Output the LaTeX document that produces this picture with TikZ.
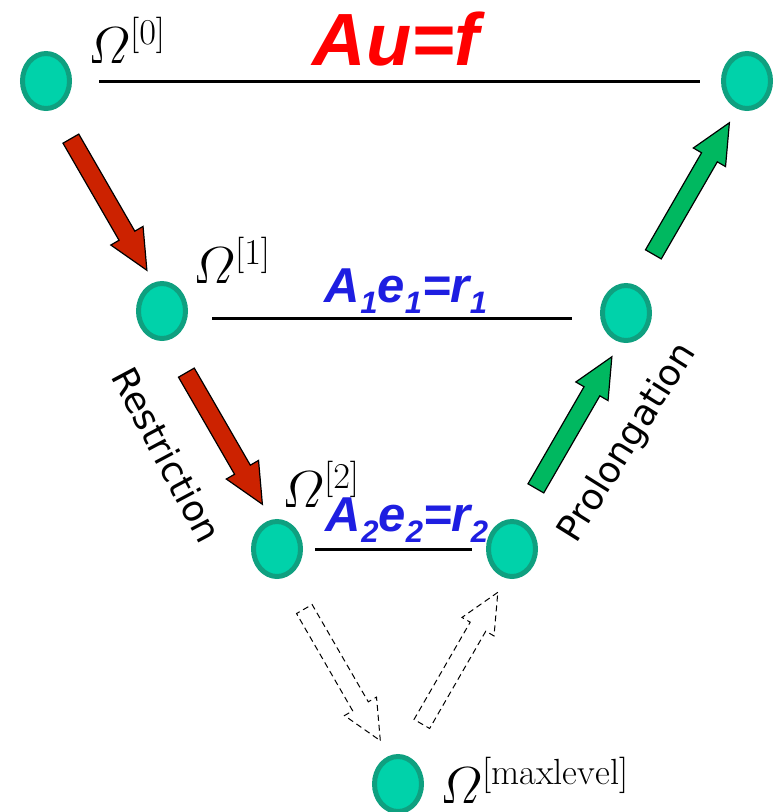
\RequirePackage{fix-cm}
\documentclass[tikz,border=0pt]{standalone}
\usepackage{amsmath}
\usepackage{fontspec}
\newfontfamily\arialfont{Liberation Sans}
\newfontfamily\labelfont{DejaVu Sans}
\usetikzlibrary{calc, shapes.geometric, shapes.arrows}

\definecolor{gridfill}{RGB}{0,210,170}
\definecolor{griddraw}{RGB}{15,160,128}
\definecolor{restrred}{RGB}{204,34,0}
\definecolor{prolgreen}{RGB}{0,184,96}
\definecolor{eqblue}{RGB}{30,30,225}

\newcommand{\eqsub}[1]{\raisebox{-11pt}{\fontsize{31}{31}\selectfont #1}}

\begin{document}
\begin{tikzpicture}[
  x=1pt, y=-1pt,
  gridpt/.style={ellipse, draw=griddraw, fill=gridfill, line width=5pt,
                 minimum width=47pt, minimum height=55pt, inner sep=0pt},
  level/.style={line width=3pt},
  omega/.style={anchor=base west, inner sep=0pt, font=\fontsize{52}{60}\selectfont},
  eqn/.style={anchor=base, inner sep=0pt, text=eqblue,
              font=\arialfont\bfseries\itshape\fontsize{49}{55}\selectfont},
  blockarr/.style={single arrow, draw=black, line width=1.2pt, inner sep=8.5pt,
                   minimum width=36pt, single arrow head extend=9.5pt,
                   single arrow tip angle=50, minimum height=152pt, rotate=#1},
  dasharr/.style={blockarr=#1, line width=1pt, dash pattern=on 6pt off 4pt},
  side/.style={inner sep=0pt, font=\labelfont\fontsize{36}{40}\selectfont}
]
  \useasboundingbox (0,0) rectangle (777,812);

  % Grid levels
  \node[gridpt] (c0)   at (46,81)   {};
  \node[gridpt] (c0r)  at (747,81)  {};
  \node[gridpt] (c1)   at (162,311) {};
  \node[gridpt] (c1r)  at (626,313) {};
  \node[gridpt] (c2)   at (277,549) {};
  \node[gridpt] (c2r)  at (512,549) {};
  \node[gridpt] (cmax) at (398,784) {};

  \draw[level, shorten <=27pt, shorten >=21pt] (c0.east) -- (c0r.west);
  \draw[level, shorten <=24pt, shorten >=28pt] ([yshift=-7pt]c1.east) -- ([yshift=-5pt]c1r.west);
  \draw[level, shorten <=12pt, shorten >=14pt] (c2.east) -- (c2r.west);

  % Grid labels
  \node[omega] (om0)   at (88,63)   {$\varOmega^{[0]}$};
  \node[omega] (om1)   at (193,283) {$\varOmega^{[1]}$};
  \node[omega] (om2)   at (282,507) {$\varOmega^{[2]}$};
  \node[omega] (ommax) at (440,803) {$\varOmega^{[\mathrm{maxlevel}]}$};

  % Equations
  \node[anchor=base, inner sep=0pt, text=red,
        font=\arialfont\bfseries\itshape\fontsize{74}{80}\selectfont] (eq0) at (396,65) {Au=f};
  \node[eqn] (eq1) at (406,302) {A\eqsub{1}e\eqsub{1}=r\eqsub{1}};
  \node[eqn] (eq2) at (407,531) {A\eqsub{2}e\eqsub{2}=r\eqsub{2}};

  % Restriction and prolongation arrows
  \node[blockarr=-60, fill=restrred] (down0) at ($(c0)!0.5!(c1)$) {};
  \node[blockarr=-60, fill=restrred] (down1) at ($(c1)!0.5!(c2)$) {};
  \node[dasharr=-60] (down2) at ($(c2)!0.5!(cmax)$) {};
  \node[dasharr=60] (up2) at ($(cmax)!0.5!(c2r)$) {};
  \node[blockarr=60, fill=prolgreen] (up1) at ($(c2r)!0.5!(c1r)$) {};
  \node[blockarr=60, fill=prolgreen] (up0) at ($(c1r)!0.5!(c0r)$) {};

  \node[side, rotate=-62] (restr) at (167,455) {Restriction};
  \node[side, rotate=58] (prol) at (628,443) {Prolongation};
\end{tikzpicture}
\end{document}
